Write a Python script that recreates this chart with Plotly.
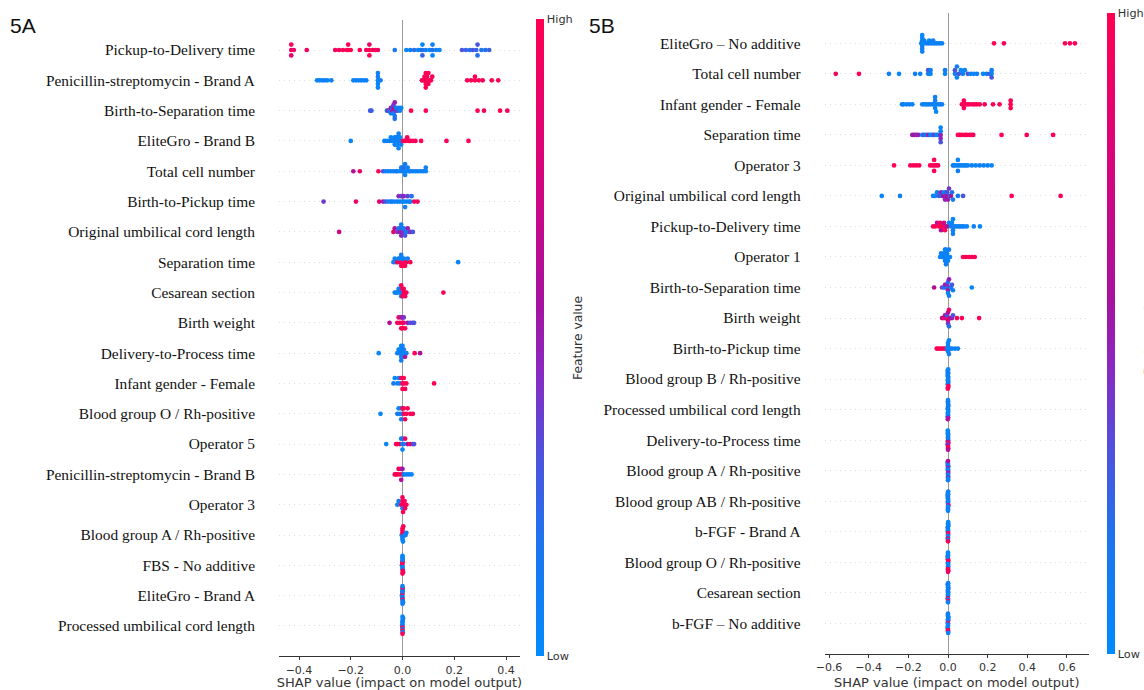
import numpy as np
import plotly.graph_objects as go

W, H = 1144, 690

# ---------------- Panel 5A data (top feature first) ----------------
A_features = [
    "Pickup-to-Delivery time", "Penicillin-streptomycin - Brand A", "Birth-to-Separation time",
    "EliteGro - Brand B", "Total cell number", "Birth-to-Pickup time", "Original umbilical cord length",
    "Separation time", "Cesarean section", "Birth weight", "Delivery-to-Process time",
    "Infant gender - Female", "Blood group O / Rh-positive", "Operator 5",
    "Penicillin-streptomycin - Brand B", "Operator 3", "Blood group A / Rh-positive",
    "FBS - No additive", "EliteGro - Brand A", "Processed umbilical cord length",
]
A_shap = [
    [-0.43, -0.43, -0.43, -0.42, -0.37, -0.26, -0.245, -0.23, -0.215, -0.21, -0.21, -0.2, -0.165, -0.14, -0.128, -0.128, -0.128, -0.115, -0.105, -0.095,
     -0.03, 0.015, 0.03, 0.045, 0.06, 0.07, 0.077, 0.077, 0.077, 0.09, 0.105, 0.116, 0.116, 0.116, 0.13, 0.143,
     0.23, 0.245, 0.26, 0.272, 0.285, 0.29, 0.29, 0.305, 0.32, 0.335],
    [-0.33, -0.32, -0.31, -0.3, -0.29, -0.275, -0.19, -0.18, -0.17, -0.16, -0.15, -0.14, -0.095, -0.095, -0.095, -0.095, -0.095, -0.085,
     0.075, 0.08, 0.085, 0.085, 0.09, 0.09, 0.09, 0.095, 0.095, 0.1, 0.1, 0.105, 0.11, 0.115,
     0.25, 0.265, 0.28, 0.28, 0.295, 0.31, 0.345, 0.37],
    [-0.125, -0.12, -0.06, -0.055, -0.05, -0.045, -0.045, -0.04, -0.04, -0.035, -0.035, -0.035, -0.035, -0.03, -0.03, -0.03, -0.025, -0.025, -0.02, -0.015, -0.01, -0.005,
     0.033, 0.09, 0.29, 0.315, 0.377, 0.405],
    [-0.2, -0.07, -0.06, -0.05, -0.045, -0.04, -0.035, -0.03, -0.03, -0.025, -0.025, -0.025, -0.02, -0.02, -0.02, -0.015, -0.015, -0.01, -0.01, -0.005,
     0.002, 0.008, 0.012, 0.018, 0.025, 0.03, 0.04, 0.05, 0.072, 0.17, 0.255],
    [-0.19, -0.165, -0.093, -0.075, -0.065, -0.055, -0.045, -0.035, -0.025, -0.02,
     -0.01, -0.005, 0.0, 0.0, 0.005, 0.005, 0.01, 0.01, 0.015, 0.02, 0.025, 0.03,
     0.04, 0.05, 0.06, 0.07, 0.08, 0.09, 0.09],
    [-0.305, -0.18, -0.09, -0.075, -0.065, -0.055, -0.045, -0.04, -0.03,
     -0.02, -0.015, -0.01, -0.005, 0.0, 0.0, 0.005, 0.005, 0.01, 0.015, 0.02, 0.025, 0.03, 0.035,
     0.045, 0.058],
    [-0.245, -0.035, -0.03, -0.02, -0.015, -0.01, -0.01, -0.005, -0.005, 0.0, 0.0, 0.005, 0.005, 0.01, 0.015, 0.02, 0.025, 0.03, 0.04],
    [-0.035, -0.03, -0.025, -0.02, -0.015, -0.01, -0.01, -0.005, -0.005, 0.0, 0.0, 0.0, 0.005, 0.005, 0.01, 0.015, 0.02, 0.03, 0.215],
    [-0.03, -0.025, -0.02, -0.015, -0.01, -0.01, -0.005, -0.005, 0.0, 0.0, 0.0, 0.005, 0.005, 0.01, 0.015, 0.158],
    [-0.05, -0.02, -0.015, -0.01, -0.005, -0.005, 0.0, 0.0, 0.0, 0.005, 0.005, 0.01, 0.02, 0.03, 0.04, 0.045],
    [-0.092, -0.02, -0.015, -0.01, -0.01, -0.005, -0.005, -0.005, 0.0, 0.0, 0.0, 0.0, 0.005, 0.005, 0.01, 0.015, 0.047, 0.068],
    [-0.035, -0.03, -0.02, -0.015, -0.01, -0.005, 0.0, 0.0, 0.0, 0.005, 0.005, 0.01, 0.015, 0.122],
    [-0.085, -0.02, -0.015, -0.01, -0.005, -0.005, 0.0, 0.0, 0.005, 0.005, 0.01, 0.015, 0.02, 0.03, 0.04],
    [-0.063, -0.025, -0.02, -0.01, -0.005, 0.0, 0.0, 0.0, 0.005, 0.01, 0.02, 0.03, 0.04, 0.045],
    [-0.03, -0.025, -0.02, -0.015, -0.01, -0.005, -0.005, 0.0, 0.0, 0.005, 0.015, 0.025, 0.035],
    [-0.02, -0.015, -0.005, -0.003, 0.0, 0.0, 0.0, 0.002, 0.005, 0.008, 0.01, 0.015],
    [-0.003, 0.0, 0.0, 0.0, 0.0, 0.0, 0.002, 0.003, 0.008, 0.012, 0.015],
    [-0.002, -0.001, 0.0, 0.0, 0.0, 0.0, 0.0, 0.0, 0.001, 0.001, 0.002, 0.0, 0.0, 0.0],
    [-0.002, -0.001, 0.0, 0.0, 0.0, 0.0, 0.0, 0.0, 0.001, 0.001, 0.002, 0.0, 0.0, 0.0],
    [-0.001, 0.0, 0.0, 0.0, 0.0, 0.0, 0.0, 0.001, 0.001, 0.002, 0.0, 0.0],
]
A_fval = [
    [0.9, 0.95, 0.85, 0.9, 0.95, 1, 0.95, 1, 0.9, 1, 0.95, 1, 1, 0.95, 1, 0.9, 1, 0.95, 1, 0.9,
     0.15, 0.05, 0.1, 0.2, 0.05, 0.1, 0.2, 0.05, 0.25, 0.1, 0.05, 0.2, 0.1, 0.05, 0.1, 0.05,
     0.3, 0.25, 0.2, 0.3, 0.25, 0.3, 0.2, 0.15, 0.2, 0.25],
    [0.05, 0.1, 0.05, 0.1, 0.05, 0.1, 0.05, 0.1, 0.05, 0.1, 0.05, 0.1, 0.05, 0.1, 0.05, 0.1, 0.05, 0.1,
     1, 0.95, 1, 0.95, 1, 0.95, 1, 0.95, 1, 0.95, 1, 0.95, 1, 0.95,
     1, 0.95, 1, 0.95, 1, 0.95, 1, 0.95],
    [0.3, 0.25, 0.1, 0.5, 0.2, 0.55, 0.1, 0.45, 0.2, 0.5, 0.6, 0.1, 0.4, 0.15, 0.5, 0.2, 0.45, 0.1, 0.3, 0.15, 0.1, 0.05,
     1, 1, 1, 0.95, 1, 0.95],
    [0.05, 0.1, 0.05, 0.1, 0.05, 0.1, 0.05, 0.1, 0.05, 0.1, 0.05, 0.1, 0.05, 0.1, 0.05, 0.1, 0.05, 0.1, 0.05, 0.1,
     1, 0.95, 1, 0.95, 1, 0.95, 1, 0.95, 1, 0.95, 1],
    [0.6, 0.85, 0.95, 0.3, 0.1, 0.05, 0.1, 0.05, 0.2, 0.1,
     0.05, 0.1, 0.15, 0.05, 0.1, 0.2, 0.05, 0.1, 0.05, 0.1, 0.05, 0.1,
     0.1, 0.05, 0.1, 0.05, 0.1, 0.05, 0.1],
    [0.4, 0.9, 0.85, 0.5, 0.3, 0.1, 0.1, 0.15, 0.05,
     0.1, 0.4, 0.05, 0.5, 0.1, 0.3, 0.05, 0.45, 0.1, 0.05, 0.35, 0.1, 0.05, 0.2,
     0.9, 0.95],
    [0.7, 0.9, 0.6, 0.4, 0.1, 0.5, 0.2, 0.45, 0.1, 0.5, 0.15, 0.4, 0.1, 0.3, 0.1, 0.5, 0.2, 0.45, 0.3],
    [0.1, 0.05, 0.1, 1, 0.1, 0.95, 0.05, 1, 0.1, 0.95, 0.05, 1, 0.95, 0.1, 1, 0.95, 0.1, 1, 0.05],
    [0.05, 0.1, 0.05, 0.1, 0.05, 0.1, 0.05, 1, 0.1, 1, 0.95, 1, 0.95, 1, 0.95, 1],
    [0.6, 0.9, 0.95, 1, 0.5, 1, 0.95, 0.6, 1, 0.9, 0.4, 1, 0.5, 0.3, 0.4, 0.3],
    [0.05, 0.1, 0.05, 0.1, 0.05, 0.1, 0.05, 0.1, 0.05, 0.1, 0.05, 0.1, 0.05, 0.1, 0.6, 0.1, 0.95, 0.6],
    [0.1, 0.05, 0.1, 0.05, 0.1, 0.95, 1, 0.95, 1, 0.95, 1, 0.95, 1, 1],
    [0.05, 0.1, 0.05, 0.1, 0.05, 0.1, 0.05, 1, 0.95, 1, 0.95, 1, 0.95, 1, 0.95],
    [0.05, 0.95, 1, 0.9, 0.1, 0.05, 0.1, 0.05, 0.1, 0.95, 0.6, 1, 0.4, 0.3],
    [1, 0.95, 1, 0.95, 1, 0.95, 0.6, 1, 0.5, 0.1, 0.05, 0.1, 0.05],
    [0.05, 0.1, 1, 0.95, 1, 0.1, 0.95, 1, 0.95, 1, 0.95, 1],
    [0.1, 1, 0.05, 0.95, 0.1, 1, 0.05, 0.95, 0.1, 0.05, 0.1],
    [0.1, 1, 0.05, 0.95, 0.1, 1, 0.05, 0.1, 0.95, 0.05, 1, 0.1, 0.95, 0.05],
    [0.05, 0.1, 0.05, 1, 0.1, 0.05, 0.95, 0.1, 0.05, 0.1, 0.05, 1, 0.1, 0.05],
    [0.05, 0.1, 1, 0.05, 0.1, 0.05, 0.95, 0.1, 0.05, 0.1, 1, 0.05],
]
A_ticks = [-0.4, -0.2, 0.0, 0.2, 0.4]

# ---------------- Panel 5B data (top feature first) ----------------
B_features = [
    "EliteGro \u2013 No additive", "Total cell number", "Infant gender - Female", "Separation time",
    "Operator 3", "Original umbilical cord length", "Pickup-to-Delivery time", "Operator 1",
    "Birth-to-Separation time", "Birth weight", "Birth-to-Pickup time", "Blood group B / Rh-positive",
    "Processed umbilical cord length", "Delivery-to-Process time", "Blood group A / Rh-positive",
    "Blood group AB / Rh-positive", "b-FGF - Brand A", "Blood group O / Rh-positive",
    "Cesarean section", "b-FGF \u2013 No additive",
]
B_shap = [
    [-0.135, -0.13, -0.13, -0.13, -0.13, -0.13, -0.13, -0.13, -0.125, -0.12, -0.11, -0.1, -0.095, -0.09, -0.08, -0.075, -0.07, -0.06, -0.05, -0.04, -0.03,
     0.232, 0.282, 0.59, 0.615, 0.64],
    [-0.566, -0.449, -0.298, -0.247, -0.166, -0.14, -0.1, -0.1, -0.088, -0.088, -0.015, -0.015,
     0.035, 0.035, 0.045, 0.045, 0.055, 0.065, 0.075, 0.085, 0.1, 0.115, 0.13, 0.146,
     0.177, 0.195, 0.21, 0.22, 0.22, 0.22],
    [-0.232, -0.225, -0.21, -0.195, -0.18,
     -0.13, -0.12, -0.11, -0.1, -0.09, -0.08, -0.07, -0.065, -0.065, -0.065, -0.065, -0.06, -0.05, -0.04, -0.03,
     0.07, 0.08, 0.08, 0.08, 0.09, 0.1, 0.11, 0.125, 0.135, 0.146, 0.16, 0.185, 0.227, 0.26, 0.316, 0.316, 0.316],
    [-0.18, -0.17, -0.16, -0.15, -0.13, -0.12, -0.11, -0.1, -0.09, -0.08, -0.07, -0.06, -0.05, -0.037, -0.037, -0.037, -0.037, -0.037,
     0.05, 0.06, 0.07, 0.085, 0.095, 0.11, 0.12, 0.127, 0.27, 0.397, 0.53],
    [-0.272, -0.19, -0.175, -0.16, -0.145, -0.09, -0.08, -0.07, -0.07, -0.07, -0.06, -0.05,
     0.025, 0.03, 0.04, 0.05, 0.05, 0.05, 0.06, 0.07, 0.08, 0.09, 0.1, 0.12, 0.14, 0.16, 0.18, 0.2, 0.22],
    [-0.334, -0.242, -0.075, -0.065, -0.055, -0.045, -0.035, -0.03, -0.025, -0.02, -0.015, -0.01, -0.01, -0.005, -0.005,
     0.0, 0.005, 0.01, 0.015, 0.02, 0.025, 0.05, 0.076, 0.321, 0.568],
    [-0.075, -0.065, -0.055, -0.045, -0.04, -0.035, -0.03, -0.025, -0.02, -0.015, -0.01, -0.005,
     0.005, 0.015, 0.02, 0.025, 0.025, 0.025, 0.03, 0.04, 0.05, 0.06, 0.07, 0.08, 0.095, 0.13, 0.161],
    [-0.04, -0.035, -0.03, -0.025, -0.02, -0.015, -0.015, -0.01, -0.01, -0.01, -0.01, -0.01, -0.005, -0.005, 0.0, 0.005, 0.01,
     0.076, 0.09, 0.105, 0.12, 0.135],
    [-0.07, -0.03, -0.02, -0.015, -0.01, -0.01, -0.005, -0.005, 0.0, 0.0, 0.0, 0.005, 0.005, 0.01, 0.015, 0.02, 0.025, 0.12],
    [-0.03, -0.02, -0.015, -0.01, -0.005, -0.005, 0.0, 0.0, 0.0, 0.005, 0.005, 0.01, 0.02, 0.025, 0.045, 0.07, 0.157],
    [-0.057, -0.05, -0.04, -0.03, -0.02, -0.01, -0.005, 0.0, 0.0, 0.0, 0.005, 0.005, 0.01, 0.02, 0.035, 0.05],
    [0.0, 0.001, -0.001, 0.0, 0.002, -0.002, 0.0, 0.001, -0.001, 0.0, 0.002, -0.002, 0.0, 0.001, -0.001],
    [0.0, -0.001, 0.001, 0.0, 0.0, 0.002, -0.001, 0.0, 0.001, 0.0, -0.002, 0.0, 0.001, 0.0, -0.001],
    [0.001, 0.0, -0.001, 0.0, 0.002, 0.0, -0.002, 0.001, 0.0, -0.001, 0.0, 0.0, 0.001, -0.001, 0.0],
    [0.0, 0.0, 0.001, -0.001, 0.0, 0.002, 0.0, -0.001, 0.001, 0.0, 0.0, -0.002, 0.001, 0.0, 0.0],
    [0.0, 0.001, 0.0, -0.001, 0.0, 0.0, 0.002, -0.002, 0.0, 0.001, 0.0, -0.001, 0.0, 0.001, 0.0],
    [-0.001, 0.0, 0.001, 0.0, 0.0, -0.002, 0.0, 0.001, 0.0, 0.002, -0.001, 0.0, 0.0, 0.001, 0.0],
    [0.0, 0.002, 0.0, -0.001, 0.001, 0.0, 0.0, -0.002, 0.001, 0.0, -0.001, 0.0, 0.002, 0.0, 0.0],
    [0.001, 0.0, 0.0, -0.001, 0.0, 0.002, 0.0, 0.0, -0.001, 0.001, 0.0, -0.002, 0.0, 0.001, 0.0],
    [0.0, -0.001, 0.0, 0.001, 0.0, 0.0, -0.002, 0.002, 0.0, 0.001, 0.0, -0.001, 0.0, 0.0, 0.001],
]
B_fval = [
    [0.05, 0.1, 0.05, 0.1, 0.05, 0.1, 0.05, 0.1, 0.05, 0.1, 0.05, 0.1, 0.05, 0.1, 0.05, 0.1, 0.05, 0.1, 0.05, 0.1, 0.05,
     1, 0.95, 1, 0.95, 1],
    [0.95, 1, 0.1, 0.05, 0.1, 0.05, 0.1, 0.3, 0.05, 0.1, 0.05, 0.1,
     0.1, 0.3, 0.05, 0.1, 0.3, 0.05, 0.1, 0.05, 0.3, 0.1, 0.05, 0.1,
     0.05, 0.1, 0.3, 0.05, 0.1, 0.3],
    [0.05, 0.1, 0.05, 0.1, 0.05,
     0.1, 0.05, 0.1, 0.05, 0.1, 0.05, 0.1, 0.05, 0.1, 0.05, 0.1, 0.05, 0.1, 0.05, 0.1,
     1, 0.95, 1, 0.95, 1, 0.95, 1, 0.95, 1, 0.95, 1, 0.95, 1, 0.95, 1, 0.95, 1],
    [0.5, 0.55, 0.45, 0.5, 0.1, 0.3, 0.05, 0.5, 0.1, 0.05, 0.4, 0.1, 0.05, 0.5, 0.1, 0.45, 0.05, 0.3,
     1, 0.95, 1, 0.95, 1, 0.95, 1, 0.95, 1, 0.95, 1],
    [1, 0.95, 1, 0.95, 1, 0.95, 1, 0.95, 1, 0.95, 1, 0.95,
     0.05, 0.1, 0.05, 0.1, 0.05, 0.1, 0.05, 0.1, 0.05, 0.1, 0.05, 0.1, 0.05, 0.1, 0.05, 0.1, 0.05],
    [0.05, 0.1, 0.1, 0.05, 0.1, 0.3, 0.5, 0.1, 0.55, 0.05, 0.5, 0.45, 0.1, 0.6, 0.3,
     0.5, 0.4, 0.1, 0.55, 0.2, 0.1, 0.1, 0.3, 1, 0.95],
    [0.95, 1, 0.7, 1, 0.9, 0.6, 1, 0.95, 0.7, 1, 0.9, 0.6,
     0.05, 0.1, 0.05, 0.1, 0.05, 0.1, 0.05, 0.1, 0.05, 0.1, 0.05, 0.1, 0.05, 0.1, 0.05],
    [0.05, 0.1, 0.05, 0.1, 0.05, 0.1, 0.05, 0.1, 0.05, 0.1, 0.05, 0.1, 0.05, 0.1, 0.05, 0.1, 0.05,
     1, 0.95, 1, 0.95, 1],
    [0.6, 0.4, 0.1, 0.5, 0.3, 0.55, 0.1, 0.45, 0.6, 0.2, 0.05, 0.5, 0.1, 0.4, 0.1, 0.3, 0.1, 0.05],
    [0.7, 0.9, 0.6, 0.5, 0.95, 0.3, 0.8, 0.6, 0.4, 0.9, 0.2, 0.7, 0.5, 0.3, 0.95, 1, 1],
    [1, 0.95, 1, 0.95, 1, 0.9, 0.1, 0.05, 0.1, 0.05, 0.1, 0.05, 0.1, 0.05, 0.1, 0.05],
    [0.05, 0.1, 0.05, 0.1, 0.05, 0.1, 0.05, 0.1, 0.05, 0.1, 0.95, 0.1, 1, 0.05, 0.95],
    [0.05, 0.1, 0.05, 0.1, 0.05, 0.1, 0.05, 0.1, 0.05, 0.1, 0.05, 0.1, 0.5, 0.1, 0.6],
    [0.1, 0.05, 0.6, 0.1, 0.95, 0.05, 0.4, 0.1, 0.5, 0.05, 0.95, 0.1, 1, 0.05, 0.6],
    [0.05, 0.1, 0.4, 0.05, 0.5, 0.1, 0.05, 0.5, 0.1, 0.05, 0.4, 0.1, 0.05, 0.6, 0.1],
    [0.05, 0.1, 0.05, 0.1, 0.05, 0.1, 0.95, 0.1, 0.05, 0.1, 0.05, 0.05, 0.1, 0.1, 0.05],
    [0.05, 0.1, 0.95, 0.05, 1, 0.1, 0.05, 0.1, 0.05, 0.1, 0.9, 0.05, 0.1, 0.05, 0.95],
    [0.05, 0.95, 0.1, 1, 0.05, 0.9, 0.1, 0.05, 0.1, 0.05, 0.95, 0.1, 1, 0.05, 0.9],
    [0.05, 0.1, 0.05, 0.1, 0.05, 0.1, 0.05, 0.1, 0.95, 0.05, 0.1, 0.05, 1, 0.1, 0.05],
    [0.05, 0.1, 0.05, 0.95, 0.05, 0.1, 0.05, 0.1, 0.05, 0.1, 0.95, 0.05, 1, 0.1, 0.05],
]
B_ticks = [-0.6, -0.4, -0.2, 0.0, 0.2, 0.4, 0.6]

for s, c in zip(A_shap + B_shap, A_fval + B_fval):
    assert len(s) == len(c), (len(s), len(c), s)

# ---------------- styling ----------------
COLORSCALE = [[0.0, "#008bfb"], [0.18, "#1d74ee"], [0.32, "#5050dc"], [0.45, "#8a28c0"],
              [0.55, "#a5129f"], [0.75, "#d4047e"], [1.0, "#ff0052"]]
TXT = "#333333"


def swarm(vals, binw, row_h=0.4):
    """shap-style beeswarm offsets: stack points that fall into the same bin."""
    v = np.asarray(vals, float)
    q = np.round(v / binw)
    order = np.argsort(q, kind="stable")
    ys = np.zeros(len(v))
    layer, last = 0, None
    for i in order:
        if q[i] != last:
            layer = 0
        ys[i] = np.ceil(layer / 2) * ((layer % 2) * 2 - 1)
        layer += 1
        last = q[i]
    ys *= 0.9 * (row_h / np.max(ys + 1))
    return ys


panels = [
    dict(feats=A_features, shap=A_shap, fval=A_fval, ticks=A_ticks, binw=0.008,
         xs="x", ys="y", cax="coloraxis",
         xpx=(279, 520), zero_px=402.5, unit_px=258.75, ypx=(19.7, 656.3),
         cbx=536, label="5A", label_x=8),
    dict(feats=B_features, shap=B_shap, fval=B_fval, ticks=B_ticks, binw=0.01,
         xs="x2", ys="y2", cax="coloraxis2",
         xpx=(824.6, 1089), zero_px=948, unit_px=198.3, ypx=(12.8, 653.8),
         cbx=1107, label="5B", label_x=587),
]

fig = go.Figure()
layout = dict(width=W, height=H, margin=dict(l=0, r=0, t=0, b=0),
              paper_bgcolor="white", plot_bgcolor="white", showlegend=False,
              annotations=[])

for k, p in enumerate(panels):
    n = len(p["feats"])
    for i, (feat, s, c) in enumerate(zip(p["feats"], p["shap"], p["fval"])):
        row = n - 1 - i
        off = swarm(s, p["binw"])
        fig.add_trace(go.Scatter(
            x=s, y=row + off, mode="markers", xaxis=p["xs"], yaxis=p["ys"],
            marker=dict(size=4.7, color=c, coloraxis=p["cax"], line=dict(width=0)),
            hoverinfo="skip", name=feat))

    x0, x1 = p["xpx"]
    rng = [(x0 - p["zero_px"]) / p["unit_px"], (x1 - p["zero_px"]) / p["unit_px"]]
    ytop, ybot = p["ypx"]
    xdom = [x0 / W, x1 / W]
    ydom = [(H - ybot) / H, (H - ytop) / H]
    xkey = "xaxis" if k == 0 else "xaxis2"
    ykey = "yaxis" if k == 0 else "yaxis2"
    layout[xkey] = dict(
        domain=xdom, range=rng, anchor=p["ys"], tickvals=p["ticks"], tickformat=".1f",
        ticks="outside", ticklen=3, tickwidth=1, tickcolor=TXT,
        showline=True, linecolor=TXT, linewidth=1, showgrid=False,
        zeroline=True, zerolinecolor="#999999", zerolinewidth=1.2,
        tickfont=dict(family="DejaVu Sans", size=11, color=TXT),
        title=dict(text="SHAP value (impact on model output)", standoff=5,
                   font=dict(family="DejaVu Sans", size=13, color=TXT)),
        automargin=False, fixedrange=True)
    layout[ykey] = dict(
        domain=ydom, range=[-1, n], anchor=p["xs"],
        tickvals=list(range(n)), ticktext=list(reversed(p["feats"])),
        ticks="", showline=False, zeroline=False,
        showgrid=True, gridcolor="#dedede", gridwidth=0.7, griddash="1px,4px",
        tickfont=dict(family="Liberation Serif", size=15.4, color="#111111"),
        ticklabelstandoff=23, automargin=False, fixedrange=True)

    layout[p["cax"]] = dict(
        colorscale=COLORSCALE, cmin=0, cmax=1,
        colorbar=dict(x=p["cbx"] / W, xanchor="left", xpad=0, ypad=0,
                      y=(H - (ytop + ybot) / 2) / H, yanchor="middle",
                      len=ybot - ytop, lenmode="pixels", thickness=8, thicknessmode="pixels",
                      outlinewidth=0, tickvals=[0, 1], ticktext=["Low", "High"],
                      ticks="", tickfont=dict(family="DejaVu Sans", size=11.3, color=TXT)))

    layout["annotations"].append(dict(
        text=p["label"], xref="paper", yref="paper", x=p["label_x"] / W, y=(H - 26) / H,
        xanchor="left", yanchor="middle", showarrow=False,
        font=dict(family="Liberation Sans", size=21, color="#111111")))
    layout["annotations"].append(dict(
        text="Feature value", xref="paper", yref="paper",
        x=(p["cbx"] + 42) / W, y=(H - (ytop + ybot) / 2) / H,
        xanchor="center", yanchor="middle", textangle=-90, showarrow=False,
        font=dict(family="DejaVu Sans", size=12.3, color=TXT)))

fig.update_layout(**layout)
fig.write_html("out.html")
